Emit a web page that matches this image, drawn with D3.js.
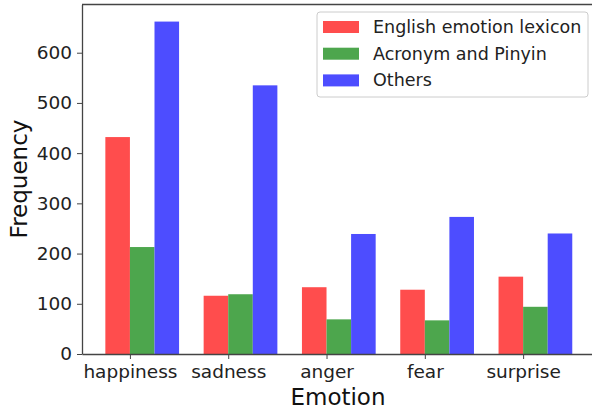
<!DOCTYPE html>
<html>
<head>
<meta charset="utf-8">
<script src="https://cdn.jsdelivr.net/npm/d3@7"></script>
<style>
  body { margin: 0; background: #fff; }
  svg, svg text { font-family: "DejaVu Sans", sans-serif; }
  .axis path, .axis line { stroke: #444; }
  .axis text { fill: #222; font-size: 18.5px; font-family: "DejaVu Sans", sans-serif; }
</style>
</head>
<body>
<svg width="592" height="410"></svg>
<script>
var emotions = ["happiness", "sadness", "anger", "fear", "surprise"];
var seriesNames = ["English emotion lexicon", "Acronym and Pinyin", "Others"];
var englishLexicon = [432, 116, 133, 128, 154];
var acronymPinyin = [213, 119, 69, 67, 94];
var others = [662, 535, 239, 273, 240];
var yTicks = [0, 100, 200, 300, 400, 500, 600];
var colors = ["#ff4d4d", "#4da64d", "#4d4dff"];

var svg = d3.select("svg");
var plotLeft = 82, plotTop = 4.5, plotBottom = 354;
var barW = 0.25;

// matplotlib-like limits: bars span -0.25 .. 4.5, plus 5% margins
var xScale = d3.scaleLinear().domain([-0.4875, 4.7375]).range([plotLeft, plotLeft + 5.225 * 98.3]);
var yScale = d3.scaleLinear().domain([0, 696]).range([plotBottom, plotTop]);

var series = [englishLexicon, acronymPinyin, others];

var g = svg.append("g");
series.forEach(function(vals, s) {
  g.selectAll(".bar" + s)
    .data(vals)
    .enter().append("rect")
    .attr("class", "bar" + s)
    .attr("x", function(d, i) { return xScale(i + (s - 1) * barW); })
    .attr("y", function(d) { return yScale(d); })
    .attr("width", function(d, i) { return xScale(i + s * barW) - xScale(i + (s - 1) * barW); })
    .attr("height", function(d) { return plotBottom - yScale(d); })
    .attr("fill", colors[s]);
});

// axes
var xAxis = d3.axisBottom(xScale)
  .tickValues(d3.range(emotions.length))
  .tickFormat(function(i) { return emotions[i]; })
  .tickSizeInner(5).tickSizeOuter(0).tickPadding(6);
svg.append("g").attr("class", "axis")
  .attr("transform", "translate(0," + plotBottom + ")")
  .call(xAxis)
  .selectAll("path").attr("stroke-width", 1.3);

var yAxis = d3.axisLeft(yScale)
  .tickValues(yTicks)
  .tickSizeInner(5).tickSizeOuter(0).tickPadding(5);
svg.append("g").attr("class", "axis")
  .attr("transform", "translate(" + plotLeft + ",0)")
  .call(yAxis)
  .selectAll("path").attr("stroke-width", 1.3);

// top spine
svg.append("line")
  .attr("x1", plotLeft).attr("x2", 592)
  .attr("y1", plotTop).attr("y2", plotTop)
  .attr("stroke", "#444").attr("stroke-width", 1.3);

// axis titles
svg.append("text")
  .attr("x", 338).attr("y", 405)
  .attr("text-anchor", "middle")
  .attr("font-size", 23).attr("fill", "#111")
  .text("Emotion");

svg.append("text")
  .attr("transform", "translate(27,179) rotate(-90)")
  .attr("text-anchor", "middle")
  .attr("font-size", 23).attr("fill", "#111")
  .text("Frequency");

// legend
var legend = svg.append("g").attr("transform", "translate(317,12)");
legend.append("rect")
  .attr("width", 271).attr("height", 85)
  .attr("rx", 3)
  .attr("fill", "#fff").attr("stroke", "#ccc");
seriesNames.forEach(function(name, s) {
  var row = legend.append("g").attr("transform", "translate(0," + (15 + s * 26.7) + ")");
  row.append("rect")
    .attr("x", 6).attr("y", -6)
    .attr("width", 36).attr("height", 12)
    .attr("fill", colors[s]);
  row.append("text")
    .attr("x", 56).attr("y", 6)
    .attr("font-size", 17.5).attr("fill", "#222")
    .text(name);
});
</script>
</body>
</html>
